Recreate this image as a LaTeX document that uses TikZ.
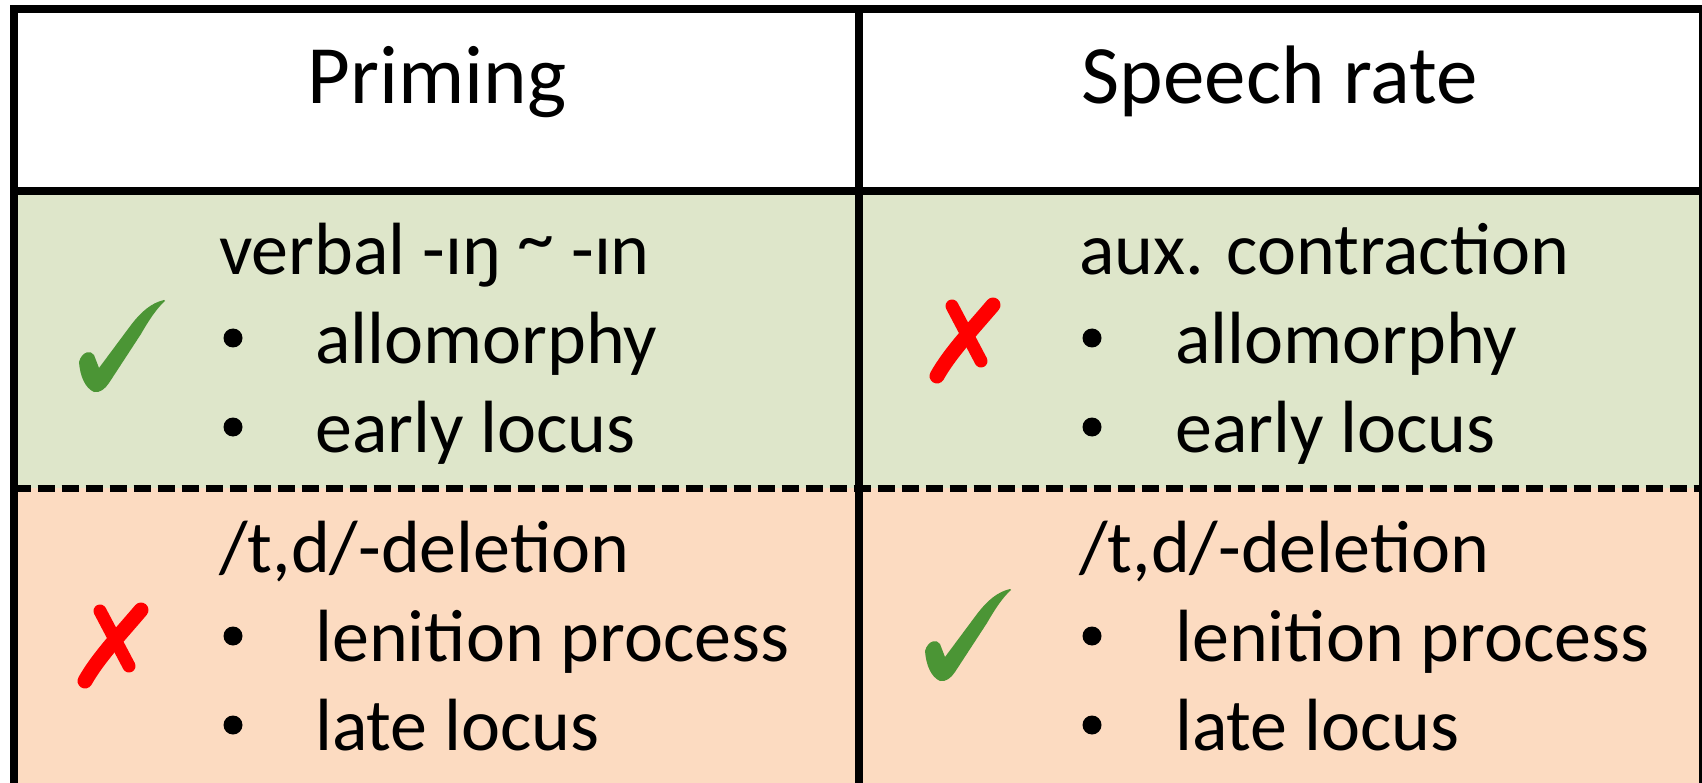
\documentclass[tikz,border=0pt]{standalone}
\usepackage{fontspec}
\setmainfont{Carlito}
\definecolor{rowgreen}{RGB}{222,230,202}
\definecolor{roworange}{RGB}{252,219,193}
\definecolor{tickgreen}{RGB}{75,149,53}
\definecolor{crossred}{RGB}{255,0,0}
\newcommand{\hightilde}{\raisebox{11pt}{\textasciitilde}}
\begin{document}
\begin{tikzpicture}[x=1pt,y=-1pt,
  headtext/.style={font=\fontsize{83}{90}\selectfont, anchor=base, inner sep=0pt},
  celltext/.style={font=\fontsize{74}{80}\selectfont, anchor=base west, inner sep=0pt},
  rule/.style={line width=8pt},
  dashrule/.style={line width=7pt, dash pattern=on 17pt off 7pt},
  bulletdot/.style={fill=black},
  tick/.pic={
    \fill[tickgreen] (85,0) .. controls (72,3) and (62,12) .. (52,25) -- (20,68)
      -- (15,55) .. controls (12,50) and (3,51) .. (0,62)
      .. controls (1,76) and (6,88) .. (15,92)
      .. controls (21,93) and (26,89) .. (30,83) -- (62,34)
      .. controls (70,20) and (78,8) .. (86,1) -- cycle;
  },
  cross/.pic={
    \draw[crossred, line width=13pt, line cap=round] (22,8) -- (51,63);
    \draw[crossred, line width=15pt, line cap=round] (63,7) .. controls (40,34) and (20,55) .. (7,78);
  }]
\useasboundingbox (0,0) rectangle (1702,783);

% grid corners
\coordinate (tl) at (13.5,9);
\coordinate (tr) at (1703,9);
\coordinate (bl) at (13.5,787);
\coordinate (br) at (1703,787);
\coordinate (hl) at (13.5,191);
\coordinate (hr) at (1703,191);
\coordinate (dl) at (13.5,488);
\coordinate (dr) at (1703,488);
\coordinate (mt) at (859,9);
\coordinate (mb) at (859,787);

% row backgrounds
\fill[white] (tl) rectangle (hr);
\fill[rowgreen] (hl) rectangle (dr);
\fill[roworange] (dl) rectangle (br);

% rules
\draw[dashrule] (dl) -- (dr);
\draw[rule] (tl) rectangle (br);
\draw[rule] (hl) -- (hr);
\draw[rule] (mt) -- (mb);

% header
\node[headtext] (hprime) at (437,104) {Priming};
\node[headtext] (hrate) at (1280,104) {Speech rate};

% left column, upper row
\node[celltext] (l1) at (219,275) {verbal -ɪŋ \hightilde{} -ɪn};
\node[celltext] (l2) at (315,363) {allomorphy};
\node[celltext] (l3) at (315,452) {early locus};
\fill[bulletdot] (233,338) circle (9.5);
\fill[bulletdot] (233,427) circle (9.5);

% right column, upper row
\node[celltext] (r1) at (1079,275) {aux. contraction};
\node[celltext] (r2) at (1175,363) {allomorphy};
\node[celltext] (r3) at (1175,452) {early locus};
\fill[bulletdot] (1092,338) circle (9.5);
\fill[bulletdot] (1092,427) circle (9.5);

% left column, lower row
\node[celltext] (l4) at (219,572) {/t,d/-deletion};
\node[celltext] (l5) at (315,661) {lenition process};
\node[celltext] (l6) at (315,750) {late locus};
\fill[bulletdot] (233,636) circle (9.5);
\fill[bulletdot] (233,725) circle (9.5);

% right column, lower row
\node[celltext] (r4) at (1079,572) {/t,d/-deletion};
\node[celltext] (r5) at (1175,661) {lenition process};
\node[celltext] (r6) at (1175,750) {late locus};
\fill[bulletdot] (1092,636) circle (9.5);
\fill[bulletdot] (1092,725) circle (9.5);

% verdict marks
\pic at (79,300) {tick};
\pic at (930,298) {cross};
\pic at (78,603) {cross};
\pic at (925,589) {tick};
\end{tikzpicture}
\end{document}
